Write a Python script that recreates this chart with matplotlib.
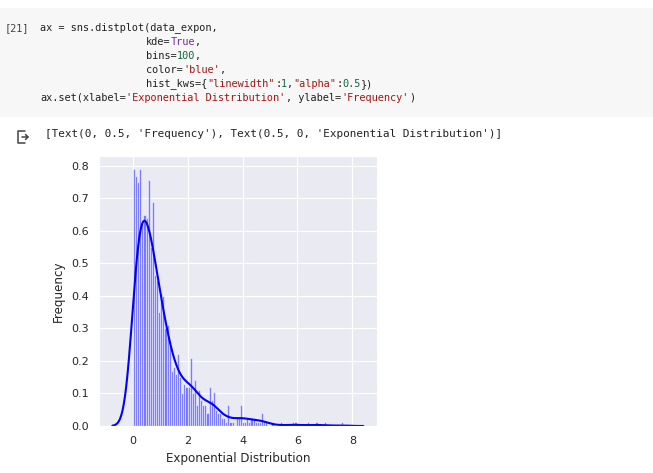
import numpy as np
import matplotlib
matplotlib.use('Agg')
import matplotlib.pyplot as plt
import seaborn as sns
from matplotlib.patches import Rectangle
from matplotlib.lines import Line2D

# histogram heights (density), 100 bins over [0, 7.65]
bin_lo, bin_hi = 0.0, 7.65
heights = [
    0.79, 0.77, 0.75, 0.79, 0.62, 0.65, 0.64, 0.755, 0.55, 0.69,
    0.465, 0.45, 0.35, 0.41, 0.40, 0.30, 0.31, 0.25, 0.17, 0.18,
    0.16, 0.22, 0.15, 0.10, 0.13, 0.12, 0.12, 0.21, 0.10, 0.14,
    0.065, 0.11, 0.08, 0.065, 0.065, 0.04, 0.12, 0.08, 0.105, 0.05,
    0.04, 0.04, 0.026, 0.026, 0.013, 0.065, 0.013, 0.013, 0.0, 0.026,
    0.026, 0.065, 0.013, 0.013, 0.026, 0.013, 0.026, 0.026, 0.013, 0.013,
    0.013, 0.039, 0.013, 0.013, 0.0, 0.0, 0.013, 0.0, 0.0, 0.0,
    0.013, 0.0, 0.0, 0.0, 0.0, 0.0, 0.013, 0.013, 0.0, 0.0,
    0.0, 0.0, 0.0, 0.013, 0.0, 0.0, 0.0, 0.013, 0.0, 0.0,
    0.0, 0.013, 0.0, 0.0, 0.0, 0.0, 0.0, 0.0, 0.0, 0.013,
]
x_ticks = [0, 2, 4, 6, 8]
y_ticks = [0.0, 0.1, 0.2, 0.3, 0.4, 0.5, 0.6, 0.7, 0.8]

# notebook cell text
cell_no = '[21]'
code_lines = [
    (40, [('ax = sns.distplot(data_expon,', 'txt')]),
    (146, [('kde=', 'txt'), ('True', 'kw'), (',', 'txt')]),
    (146, [('bins=', 'txt'), ('100', 'num'), (',', 'txt')]),
    (146, [('color=', 'txt'), ("'blue'", 'str'), (',', 'txt')]),
    (146, [('hist_kws={', 'txt'), ('"linewidth"', 'str'), (':', 'txt'), ('1', 'num'),
           (',', 'txt'), ('"alpha"', 'str'), (':', 'txt'), ('0.5', 'num'), ('})', 'txt')]),
    (40, [('ax.set(xlabel=', 'txt'), ("'Exponential Distribution'", 'str'),
          (', ylabel=', 'txt'), ("'Frequency'", 'str'), (')', 'txt')]),
]
out_text = "[Text(0, 0.5, 'Frequency'), Text(0.5, 0, 'Exponential Distribution')]"
colors = {'txt': '#212121', 'kw': '#7928a1', 'num': '#116644', 'str': '#a31515'}

W, H = 653, 473
sns.set_style('darkgrid')
fig = plt.figure(figsize=(W / 100, H / 100), dpi=100)
fig.patch.set_facecolor('white')


def fx(px):
    return px / W


def fy(py):
    return 1 - py / H


mono = 'DejaVu Sans Mono'
cw = 6.15
code_size = cw / 0.602 * 0.72

# code cell background
fig.patches.append(Rectangle((0, fy(117)), 1, (117 - 8) / H, transform=fig.transFigure,
                             facecolor='#f7f7f7', edgecolor='none', zorder=0))

fig.text(fx(5), fy(28), cell_no, family=mono, fontsize=code_size, color='#424242', va='center')
for i, (x0, toks) in enumerate(code_lines):
    y = 28 + i * 14
    n = 0
    for s, kind in toks:
        fig.text(fx(x0 + n * cw), fy(y), s, family=mono, fontsize=code_size,
                 color=colors[kind], va='center')
        n += len(s)

fig.text(fx(45), fy(134), out_text, family=mono, fontsize=6.6 / 0.602 * 0.72,
         color='#212121', va='center')

# output icon
icon = [([25, 18, 18, 25], [131, 131, 143, 143]), ([22, 28], [137, 137]),
        ([25.5, 28, 25.5], [134.5, 137, 139.5])]
for xs, ys in icon:
    fig.lines.append(Line2D([fx(v) for v in xs], [fy(v) for v in ys],
                            transform=fig.transFigure, color='#424242', lw=1.1))

# chart
ax = fig.add_axes([fx(99), fy(426), (377 - 99) / W, (426 - 156) / H])
edges = np.linspace(bin_lo, bin_hi, len(heights) + 1)
width = edges[1] - edges[0]
ax.bar(edges[:-1], heights, width=width, align='edge', color='blue', alpha=0.5, linewidth=0.8)

# kde smoothed from the histogram
centers = edges[:-1] + width / 2
w = np.array(heights) * width
bw = 0.25
grid = np.linspace(bin_lo - 3 * bw, bin_hi + 3 * bw, 400)
dens = (w[None, :] * np.exp(-0.5 * ((grid[:, None] - centers[None, :]) / bw) ** 2)).sum(1)
dens = dens / (w.sum() * bw * np.sqrt(2 * np.pi))
ax.plot(grid, dens, color='blue', lw=1.5)

ax.set_xlim(-1.24, 8.9)
ax.set_ylim(0, 0.83)
ax.set_xticks(x_ticks)
ax.set_yticks(y_ticks)
ax.tick_params(labelsize=8, colors='#262626', pad=4)
ax.set_xlabel('Exponential Distribution', fontsize=8.6, color='#262626', labelpad=4)
ax.set_ylabel('Frequency', fontsize=8.6, color='#262626', labelpad=4)

fig.savefig('out.png', dpi=100)
